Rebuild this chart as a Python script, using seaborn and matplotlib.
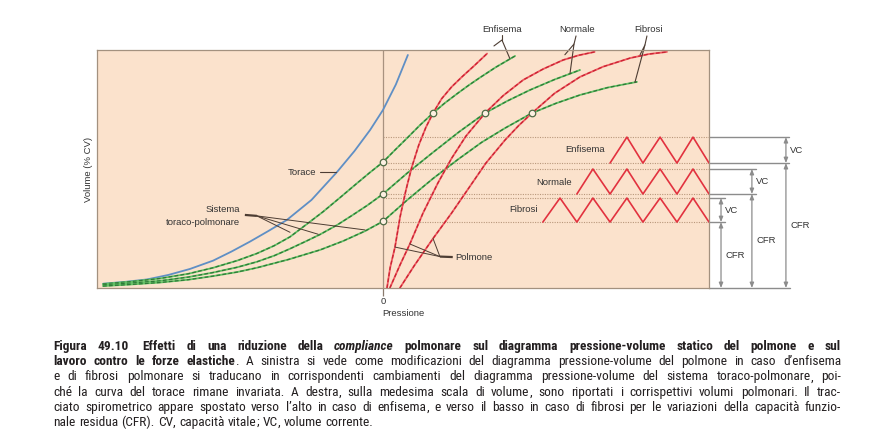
import matplotlib
matplotlib.use("Agg")
import matplotlib.pyplot as plt
import seaborn as sns
from matplotlib import font_manager

# ---- values (pressure: arbitrary units, 0 = zero line; volume: % CV)
torace_p = [-97.9, -90, -82.5, -75, -67.5, -59.4, -53, -46.5, -40, -33.6, -25, -16.1, -10, -4.5, 0, 4.5, 8.7]
torace_v = [1.8, 2.6, 3.6, 5.5, 8.0, 11.5, 15.3, 19.5, 24.0, 28.6, 37.0, 48.7, 57.5, 66.4, 74.8, 85.5, 97.9]

sist_enf_p = [-97.9, -88, -78, -68, -59.4, -51, -44.1, -38, -32.5, -27, -21, -15, -9.1, -4.5, 0,
              4.3, 8.7, 13, 17.5, 21.5, 26, 30, 33.9, 39.5, 46.2]
sist_enf_v = [1.7, 2.7, 4.0, 6.0, 8.5, 11.5, 14.5, 17.8, 21.5, 26.5, 32.0, 38.0, 44.0, 48.6, 52.9,
              58.1, 63.3, 68.5, 73.5, 77.6, 81.7, 85.2, 88.4, 92.8, 97.5]
sist_norm_p = [-97.9, -88, -78, -68, -59.4, -51, -44.1, -38, -32.5, -27, -22, -16, -10.8, -5.5, 0,
               8.7, 17.5, 26.5, 35.7, 43.5, 51.4, 60, 68.9]
sist_norm_v = [1.3, 2.1, 3.0, 4.6, 6.5, 8.7, 11.0, 13.6, 16.5, 19.6, 22.5, 26.5, 30.5, 34.7, 39.5,
               48.5, 57.0, 65.5, 73.5, 78.6, 83.2, 87.6, 91.6]
sist_fib_p = [-97.9, -88, -78, -68, -59.4, -51, -44.1, -33, -22, -14, -6.3, 0, 8.7, 17.5, 26.2,
              34.5, 42.7, 52.1, 60.5, 68.9, 78.5, 88.8]
sist_fib_v = [0.8, 1.5, 2.3, 3.5, 5.0, 6.7, 8.5, 12.0, 16.0, 19.7, 23.9, 28.0, 37.2, 46.0, 54.0,
              61.2, 67.2, 73.5, 77.6, 81.1, 84.2, 86.6]

polm_enf_p = [1.4, 2.5, 4.2, 6.0, 8.0, 10.0, 12.5, 15.0, 17.5, 20.5, 24.0, 27.6, 32.0, 36.4]
polm_enf_v = [0.0, 8.5, 17.2, 30.0, 41.0, 50.5, 60.0, 67.5, 73.5, 79.5, 84.5, 88.7, 93.5, 98.5]
polm_norm_p = [2.4, 6.0, 9.4, 14.0, 19.2, 24.0, 29.0, 35.7, 42.0, 49.0, 56.0, 63.0, 68.5, 74.0]
polm_norm_v = [0.0, 9.8, 18.5, 31.5, 44.1, 54.5, 63.8, 73.5, 80.8, 87.4, 92.0, 95.8, 97.8, 99.2]
polm_fib_p = [5.9, 11.0, 17.5, 24.0, 30.0, 36.0, 42.7, 47.5, 52.1, 60.0, 68.9, 77.0, 86.4, 93.0, 99.3]
polm_fib_v = [0.0, 9.5, 20.8, 31.5, 42.0, 52.5, 62.2, 68.3, 73.5, 81.8, 88.7, 93.0, 96.6, 98.3, 99.2]

# equilibrium points (open circles)
frc_p = [0.0, 0.0, 0.0, 17.5, 35.7, 52.1]
frc_v = [52.9, 39.5, 28.0, 73.5, 73.5, 73.5]

# spirometric traces: trough/peak volumes and turning points
wave_x = [55.9, 61.9, 67.8, 73.4, 79.4, 85.3, 90.9, 96.9, 102.8, 108.4, 114.0]
enf_lo, enf_hi = 52.5, 63.4
norm_lo, norm_hi = 39.5, 50.0
fib_lo, fib_hi = 27.7, 37.8
enf_wave_x = wave_x[4:]
enf_wave_v = [enf_lo, enf_hi, enf_lo, enf_hi, enf_lo, enf_hi, enf_lo]
norm_wave_x = wave_x[2:]
norm_wave_v = [norm_lo, norm_hi, norm_lo, norm_hi, norm_lo, norm_hi, norm_lo, norm_hi, norm_lo]
fib_wave_x = wave_x
fib_wave_v = [fib_lo, fib_hi, fib_lo, fib_hi, fib_lo, fib_hi, fib_lo, fib_hi, fib_lo, fib_hi, fib_lo]

caption = [
    "Figura 49.10|Effetti di una riduzione della *compliance* polmonare sul diagramma pressione-volume statico del polmone e sul",
    "lavoro contro le forze elastiche",
    "e di fibrosi polmonare si traducano in corrispondenti cambiamenti del diagramma pressione-volume del sistema toraco-polmonare, poi-",
    "ché la curva del torace rimane invariata. A destra, sulla medesima scala di volume, sono riportati i corrispettivi volumi polmonari. Il trac-",
    "ciato spirometrico appare spostato verso l’alto in caso di enfisema, e verso il basso in caso di fibrosi per le variazioni della capacità funzio-",
    "nale residua (CFR). CV, capacità vitale; VC, volume corrente.",
]
caption_2_rest = ". A sinistra si vede come modificazioni del diagramma pressione-volume del polmone in caso d’enfisema"

sns.set_theme(style="white")
plt.rcParams["font.family"] = ["Liberation Sans", "DejaVu Sans"]

# condensed face for the caption, picked by file so every word gets the same one
fm = font_manager.fontManager
cap_font = next((c for c in ["Roboto Condensed", "Liberation Sans Narrow", "Open Sans Condensed"]
                 if any(f.name == c for f in fm.ttflist)), "Liberation Sans")


def wnum(w):
    return font_manager.weight_dict.get(w, w) if isinstance(w, str) else w


def cap_fp(weight, style, size):
    cands = [f for f in fm.ttflist if f.name == cap_font and f.fname.lower().endswith((".ttf", ".otf"))]
    if not cands:
        return font_manager.FontProperties(family=cap_font, weight=weight, style=style, size=size)
    target = 700 if weight == "bold" else 400
    best = min(cands, key=lambda f: ((f.style != style) * 1000 + abs(wnum(f.weight) - target)
                                     + ("[" in f.fname) * 50))
    return font_manager.FontProperties(fname=best.fname, size=size)


W, H = 881, 437
fig = plt.figure(figsize=(W / 100, H / 100), dpi=100)
fig.patch.set_facecolor("white")
ax = fig.add_axes([97 / W, 1 - 288 / H, (709 - 97) / W, (288 - 50) / H])
ax.set_facecolor("#fbe2cc")
ax.set_xlim(-100, 114)
ax.set_ylim(0, 100)

RED, RED_D = "#ee5a60", "#c92232"
GRN, GRN_D = "#62c064", "#2e7a38"
BLUE = "#5f8fc5"
TXT = "#333333"
PTR = "#4d3d33"


def curve(px, vy, c1, c2):
    sns.lineplot(x=px, y=vy, sort=False, estimator=None, color=c1, lw=1.3, ax=ax)
    if c2:
        ln = sns.lineplot(x=px, y=vy, sort=False, estimator=None, color=c2, lw=0.9, ax=ax)
        ln.lines[-1].set_dashes((3, 1.8))


# tidal levels and zero line
ax.hlines([enf_hi, enf_lo, norm_hi, norm_lo, fib_hi, fib_lo], 0, 114,
          colors="#b9987c", linestyles=(0, (1, 1.2)), lw=0.8, zorder=1)
ax.axvline(0, color="#a8927f", lw=0.9, zorder=1)

curve(torace_p, torace_v, BLUE, None)
for p, v in [(sist_enf_p, sist_enf_v), (sist_norm_p, sist_norm_v), (sist_fib_p, sist_fib_v)]:
    curve(p, v, GRN, GRN_D)
for p, v in [(polm_enf_p, polm_enf_v), (polm_norm_p, polm_norm_v), (polm_fib_p, polm_fib_v)]:
    curve(p, v, RED, RED_D)
for p, v in [(enf_wave_x, enf_wave_v), (norm_wave_x, norm_wave_v), (fib_wave_x, fib_wave_v)]:
    sns.lineplot(x=p, y=v, sort=False, estimator=None, color="#e2323f", lw=1.2, ax=ax)

sns.scatterplot(x=frc_p, y=frc_v, s=22, color="#fdf0e2", edgecolor="#4f6b45",
                linewidth=0.9, zorder=5, ax=ax)

# axes cosmetics
for s in ax.spines.values():
    s.set_color("#a3917f")
    s.set_linewidth(0.9)
ax.set_xticks([0])
ax.set_xticklabels(["0"])
ax.set_yticks([])
ax.tick_params(axis="x", bottom=True, length=5.8, width=0.9, color="#8a7a6e",
               pad=1, labelsize=6.8, labelcolor=TXT)
ax.set_xlabel("Pressione", fontsize=6.8, color=TXT, labelpad=2)
ax.set_ylabel("Volume (% CV)", fontsize=6.8, color=TXT, labelpad=3)

fs = 6.8
# curve labels with leader lines
ax.text(-23.4, 48.7, "Torace", ha="right", va="center", fontsize=fs, color=TXT)
ax.plot([-22.0, -16.5], [48.7, 48.7], color=PTR, lw=0.8)

ax.text(-50, 32.8, "Sistema", ha="right", va="center", fontsize=fs, color=TXT)
ax.text(-50, 27.7, "toraco-polmonare", ha="right", va="center", fontsize=fs, color=TXT)
ax.plot([-48.3, -44.1], [30.7, 30.3], color=PTR, lw=1.6, solid_capstyle="butt")
for ex, ey in [(-32.5, 23.4), (-22.7, 22.6), (-6.3, 24.4)]:
    ax.plot([-44.1, ex], [30.3, ey], color=PTR, lw=0.7)

ax.text(25.2, 13.0, "Polmone", ha="left", va="center", fontsize=fs, color=TXT)
ax.plot([19.9, 24.4], [13.2, 13.0], color=PTR, lw=1.6, solid_capstyle="butt")
for ex, ey in [(4.2, 17.2), (9.4, 18.5), (17.5, 20.8)]:
    ax.plot([19.9, ex], [13.2, ey], color=PTR, lw=0.7)

tops = [("Enfisema", 41.5, (41.6, 106.3), (41.6, 104.2), (38.8, 101.7), (44.4, 96.3)),
        ("Normale", 67.7, (67.5, 105.9), (66.8, 102.5), (63.6, 98.0), (65.4, 90.2)),
        ("Fibrosi", 92.8, (92.3, 105.9), (91.6, 102.1), (89.9, 98.0), (88.1, 86.4))]
for name, tx, a, f, r, g in tops:
    ax.text(tx, 108.6, name, ha="center", va="center", fontsize=fs, color=TXT)
    ax.plot([a[0], f[0]], [a[1], f[1]], color=PTR, lw=0.8, clip_on=False)
    ax.plot([r[0], f[0], g[0]], [r[1], f[1], g[1]], color=PTR, lw=0.8, clip_on=False)

ax.text(77.6, 58.2, "Enfisema", ha="right", va="center", fontsize=fs, color=TXT)
ax.text(66.1, 44.4, "Normale", ha="right", va="center", fontsize=fs, color=TXT)
ax.text(54.2, 32.8, "Fibrosi", ha="right", va="center", fontsize=fs, color=TXT)

# volume brackets on the right
GR = "#8c8c8c"
ax.plot([114, 142.3], [0, 0], color=GR, lw=1.0, clip_on=False)
for x_ar, lo, hi, x_end in [(140.9, enf_lo, enf_hi, 142.0),
                            (129.0, norm_lo, norm_hi, 130.5),
                            (118.2, fib_lo, fib_hi, 119.5)]:
    ax.plot([114, x_end], [hi, hi], color=GR, lw=1.0, clip_on=False)
    ax.plot([114, x_end], [lo, lo], color=GR, lw=1.0, clip_on=False)
    for y0, y1 in [(lo, hi), (0, lo)]:
        ax.annotate("", xy=(x_ar, y1), xytext=(x_ar, y0), annotation_clip=False,
                    arrowprops=dict(arrowstyle="<|-|>,head_length=0.25,head_width=0.1",
                                    color=GR, lw=0.9, shrinkA=0, shrinkB=0))
    ax.text(x_ar + 1.5, (lo + hi) / 2, "VC", ha="left", va="center", fontsize=fs, color=TXT)
    ax.text(x_ar + 1.5, lo * 0.5, "CFR", ha="left", va="center", fontsize=fs, color=TXT)


# caption, justified word by word (trailing punctuation kept as its own glued piece)
def tokens_of(text, weight):
    out = []
    for w in text.split():
        style = "normal"
        if w.startswith("*"):
            w, style = w.strip("*"), "italic"
        if len(w) > 1 and w[-1] in ",;":
            out.append([w[:-1], weight, style, 0])
            out.append([w[-1], weight, style, 1])
        else:
            out.append([w, weight, style, 0])
    return out


lines_tok = []
first = caption[0].split("|")
t1 = tokens_of(first[0], "bold") + tokens_of(first[1], "bold")
t1[2][3] = 2
lines_tok.append(t1)
t2 = tokens_of(caption[1], "bold") + tokens_of(caption_2_rest, "normal")
t2[5][3] = 1
lines_tok.append(t2)
for c in caption[2:]:
    lines_tok.append(tokens_of(c, "normal"))

renderer = fig.canvas.get_renderer()
x0, x1, wide = 53, 841, 14


def word_widths(toks, size):
    out = []
    for w, weight, style, _ in toks:
        tmp = fig.text(0, 0, w, fontproperties=cap_fp(weight, style, size))
        out.append(tmp.get_window_extent(renderer).width)
        tmp.remove()
    return out


# one size for all lines, so the tightest justified line keeps normal word spacing
fits = []
for toks in lines_tok[:-1]:
    n_gap = sum(1 for tk in toks[1:] if tk[3] == 0)
    nat = sum(word_widths(toks, 9)) + n_gap * 9 * 100 / 72 * 0.26
    fits.append(9 * (x1 - x0 - wide * sum(1 for tk in toks if tk[3] == 2)) / nat)
cap_size = round(min(min(fits), 9.6), 2)

for i, toks in enumerate(lines_tok):
    base = 350 + 15.2 * i
    widths = word_widths(toks, cap_size)
    n_gap = sum(1 for tk in toks[1:] if tk[3] == 0)
    if i < len(lines_tok) - 1:
        gap = (x1 - x0 - sum(widths) - wide * sum(1 for tk in toks if tk[3] == 2)) / n_gap
    else:
        gap = cap_size * 100 / 72 * 0.26
    x = x0
    for k, (w, weight, style, glue) in enumerate(toks):
        if k > 0:
            x += gap if glue == 0 else (wide if glue == 2 else 0)
        fig.text(x / W, 1 - base / H, w, fontproperties=cap_fp(weight, style, cap_size),
                 va="baseline", ha="left", color="#231f20")
        x += widths[k]

fig.savefig("out.png", dpi=100, facecolor="white")
